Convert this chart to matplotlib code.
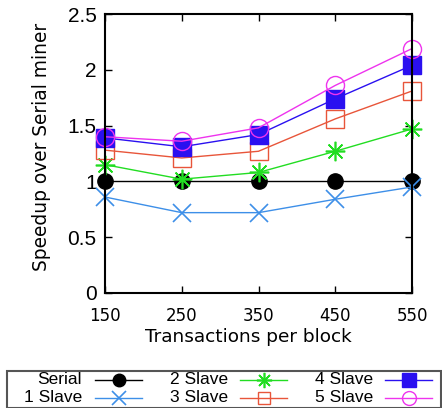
import matplotlib
matplotlib.use("Agg")
import matplotlib.pyplot as plt
from matplotlib.lines import Line2D
from matplotlib.patches import Rectangle

x = [150, 250, 350, 450, 550]
serial = [1.0, 1.0, 1.0, 1.0, 1.0]
slave1 = [0.86, 0.72, 0.72, 0.84, 0.95]
slave2 = [1.15, 1.02, 1.08, 1.27, 1.47]
slave3 = [1.28, 1.21, 1.27, 1.56, 1.81]
slave4 = [1.39, 1.31, 1.42, 1.74, 2.04]
slave5 = [1.40, 1.36, 1.48, 1.86, 2.19]
labels = ["Serial", "1 Slave", "2 Slave", "3 Slave", "4 Slave", "5 Slave"]
xticks = [150, 250, 350, 450, 550]
yticks = [0, 0.5, 1, 1.5, 2, 2.5]
ytick_labels = ["0", "0.5", "1", "1.5", "2", "2.5"]

W, H = 442, 408
fig = plt.figure(figsize=(W/100, H/100), dpi=100)
ax = fig.add_axes([105/W, 1 - 293/H, (412-105)/W, (293-14)/H])

styles = [
    dict(color="black", marker="o", ms=11, mfc="black", mec="black"),
    dict(color="#3d8fe8", marker="x", ms=13, mew=1.2),
    dict(color="#22dd22", marker=(8, 2, 0), ms=14, mew=1.2),
    dict(color="#e8553a", marker="s", ms=13, mfc="none", mew=1.0),
    dict(color="#2a10f0", marker="s", ms=13, mfc="#2a10f0"),
    dict(color="#ee33ee", marker="o", ms=13, mfc="none", mew=1.0),
]
series = [serial, slave1, slave2, slave3, slave4, slave5]
for y, lab, st in zip(series, labels, styles):
    ax.plot(x, y, label=lab, lw=1.0, clip_on=False, **st)

ax.set_xlim(150, 550)
ax.set_ylim(0, 2.5)
ax.set_xticks(xticks)
ax.set_xticklabels([str(v) for v in xticks], fontsize=12, family="DejaVu Sans")
ax.set_yticks(yticks)
ax.set_yticklabels(ytick_labels, fontsize=15, family="Liberation Sans")
ax.tick_params(direction="in", top=True, right=True, length=5, width=1)
ax.tick_params(axis="x", pad=10)
ax.tick_params(axis="y", pad=6)
for s in ax.spines.values():
    s.set_linewidth(1.5)

fig.text(42/W, 1 - 147/H, "Speedup over Serial miner", fontsize=13.4,
         rotation=90, ha="center", va="center")
fig.text(248/W, 1 - 337/H, "Transactions per block", fontsize=13.3,
         ha="center", va="center")

# legend box
fig.add_artist(Rectangle((7/W, 0), (W-8)/W, 37/H, transform=fig.transFigure,
                         fill=False, edgecolor="#555555", lw=1.5))
text_right = [82, 82, 228, 228, 373, 373]
handle_x = [(95, 142), (95, 142), (240, 287), (240, 287), (385, 432), (385, 432)]
rows = [380, 398, 380, 398, 380, 398]
leg_ms = [9, 10, 11, 9, 10, 10]
for lab, st, tr, hx, ry, ms in zip(labels, styles, text_right, handle_x, rows, leg_ms):
    fig.text(tr/W, 1 - ry/H, lab, fontsize=12.5, family="Liberation Sans",
             ha="right", va="center")
    fig.add_artist(Line2D([hx[0]/W, hx[1]/W], [1 - ry/H, 1 - ry/H],
                          transform=fig.transFigure, lw=1.0,
                          color=st["color"]))
    mst = dict(st)
    mst["ms"] = ms
    mst.pop("color")
    fig.add_artist(Line2D([(hx[0]+hx[1])/2/W], [1 - ry/H],
                          transform=fig.transFigure, lw=0, color=st["color"], **mst))

fig.savefig("out.png", dpi=100)
